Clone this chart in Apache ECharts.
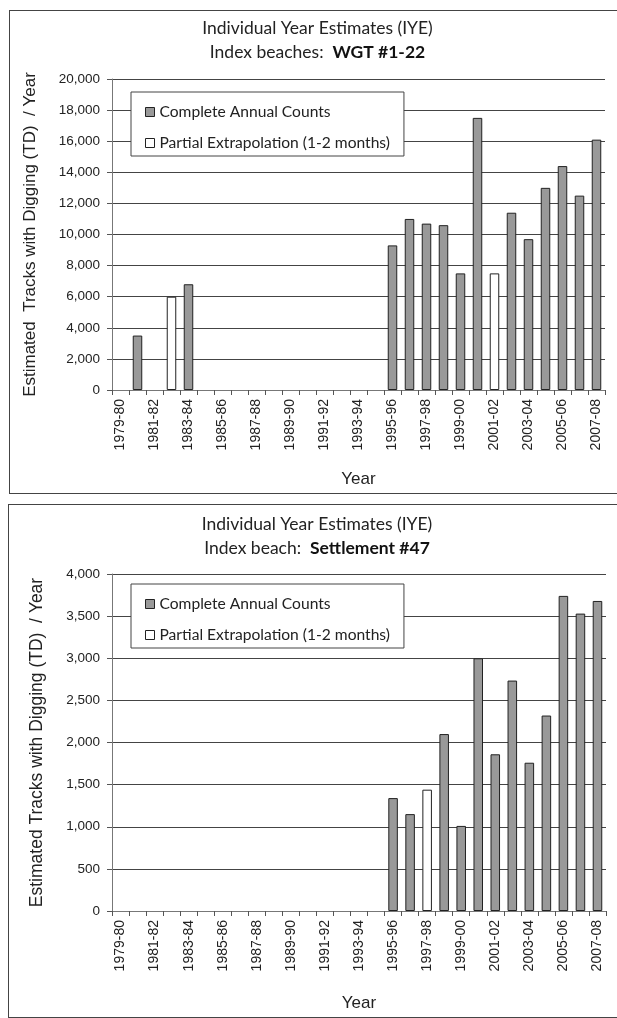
<!DOCTYPE html>
<html>
<head>
<meta charset="utf-8">
<script src="https://cdn.jsdelivr.net/npm/echarts@6/dist/echarts.min.js"></script>
<style>
  html, body {
    margin: 0;
    padding: 0;
    background: #fff;
    overflow: hidden;
    width: 617px;
    height: 1018px;
  }
  .panel {
    position: absolute;
    border: 1px solid #444;
    box-sizing: border-box;
    background: #fff;
  }
  #chart1 { left: 9px; top: 10px; width: 617px; height: 484px; }
  #chart2 { left: 8px; top: 504px; width: 618px; height: 514px; }
</style>
</head>
<body>
<div id="chart1" class="panel"></div>
<div id="chart2" class="panel"></div>

<script>
// seasons 1979-80 ... 2007-08
const years = [
  '1979-80', '1980-81', '1981-82', '1982-83', '1983-84', '1984-85', '1985-86',
  '1986-87', '1987-88', '1988-89', '1989-90', '1990-91', '1991-92', '1992-93',
  '1993-94', '1994-95', '1995-96', '1996-97', '1997-98', '1998-99', '1999-00',
  '2000-01', '2001-02', '2002-03', '2003-04', '2004-05', '2005-06', '2006-07',
  '2007-08'
]

// WGT #1-22
const wgtComplete = [
  null, 3500, null, null, 6800, null, null, null, null, null, null, null, null, null,
  null, null, 9300, 11000, 10700, 10600, 7500, 17500, null, 11400, 9700, 13000, 14400, 12500,
  16100
]
const wgtPartial = [
  null, null, null, 6000, null, null, null, null, null, null, null, null, null, null,
  null, null, null, null, null, null, null, null, 7500, null, null, null, null, null,
  null
]

// Settlement #47
const settComplete = [
  null, null, null, null, null, null, null, null, null, null, null, null, null, null,
  null, null, 1340, 1150, null, 2100, 1010, 3000, 1860, 2735, 1760, 2320, 3740, 3530,
  3680
]
const settPartial = [
  null, null, null, null, null, null, null, null, null, null, null, null, null, null,
  null, null, null, null, 1440, null, null, null, null, null, null, null, null, null,
  null
]

const wgtTicks = { max: 20000, interval: 2000 }
const settTicks = { max: 4000, interval: 500 }

const SERIES_A = 'Complete Annual Counts'
const SERIES_B = 'Partial Extrapolation (1-2 months)'

const titleFont = 'Lato, "Noto Sans", sans-serif'
const axisFont = '"Liberation Sans", Arial, sans-serif'

const makeOption = (cfg) => ({
  animation: false,
  title: {
    text: 'Individual Year Estimates (IYE)\n' + cfg.sub + '  {b|' + cfg.subBold + '}',
    left: 'center',
    top: cfg.titleTop,
    textStyle: {
      fontFamily: titleFont,
      fontSize: 17.5,
      fontWeight: 'normal',
      color: '#222',
      lineHeight: 24,
      rich: {
        b: { fontFamily: titleFont, fontSize: 17.5, fontWeight: 'bold', color: '#111' }
      }
    }
  },
  legend: {
    orient: 'vertical',
    left: cfg.legend.left,
    top: cfg.legend.top,
    padding: [11, 14, 4, 14],
    itemGap: 13,
    itemWidth: 9,
    itemHeight: 9,
    icon: 'rect',
    backgroundColor: '#fff',
    borderColor: '#444',
    borderWidth: 1,
    borderRadius: 0,
    itemStyle: { borderColor: '#222', borderWidth: 1 },
    textStyle: { fontFamily: titleFont, fontSize: 15.6, color: '#222', lineHeight: 18 },
    data: [SERIES_A, SERIES_B]
  },
  grid: cfg.grid,
  xAxis: {
    type: 'category',
    data: years,
    name: 'Year',
    nameLocation: 'middle',
    nameGap: cfg.xNameGap,
    nameTextStyle: { fontFamily: axisFont, fontSize: 17, color: '#222' },
    axisLine: { lineStyle: { color: '#777', width: 1 } },
    axisTick: { show: true, interval: 0, length: 5, lineStyle: { color: '#555' } },
    axisLabel: {
      interval: 1,
      rotate: 90,
      margin: 9,
      fontFamily: axisFont,
      fontSize: 14,
      color: '#222'
    }
  },
  yAxis: {
    type: 'value',
    min: 0,
    max: cfg.ticks.max,
    interval: cfg.ticks.interval,
    name: cfg.yName,
    nameLocation: 'middle',
    nameRotate: 90,
    nameGap: cfg.yNameGap,
    nameTextStyle: { fontFamily: axisFont, fontSize: cfg.yNameSize, color: '#222' },
    axisLine: { show: true, lineStyle: { color: '#777', width: 1 } },
    axisTick: { show: true, length: 5, lineStyle: { color: '#555' } },
    splitLine: { lineStyle: { color: '#444', width: 1 } },
    axisLabel: {
      margin: 12,
      fontFamily: axisFont,
      fontSize: 13.5,
      color: '#222',
      formatter: (v) => v.toLocaleString('en-US')
    }
  },
  series: [
    {
      name: SERIES_A,
      type: 'bar',
      barWidth: '56%',
      barGap: '-100%',
      data: cfg.complete,
      itemStyle: { color: '#999', borderColor: '#222', borderWidth: 1 }
    },
    {
      name: SERIES_B,
      type: 'bar',
      barWidth: '56%',
      barGap: '-100%',
      data: cfg.partial,
      itemStyle: { color: '#fff', borderColor: '#222', borderWidth: 1 }
    }
  ]
})

const chart1 = echarts.init(document.getElementById('chart1'))
chart1.setOption(makeOption({
  sub: 'Index beaches:',
  subBold: 'WGT #1-22',
  titleTop: 0,
  legend: { left: 121, top: 81 },
  grid: { left: 102, top: 68, width: 493, height: 319 },
  xNameGap: 81,
  yName: 'Estimated  Tracks with Digging (TD)  / Year',
  yNameSize: 17,
  yNameGap: 73,
  ticks: wgtTicks,
  complete: wgtComplete,
  partial: wgtPartial
}))

const chart2 = echarts.init(document.getElementById('chart2'))
chart2.setOption(makeOption({
  sub: 'Index beach:',
  subBold: 'Settlement #47',
  titleTop: 2,
  legend: { left: 122, top: 79 },
  grid: { left: 103, top: 69, width: 494, height: 347 },
  xNameGap: 84,
  yName: 'Estimated Tracks with Digging (TD)  / Year',
  yNameSize: 17.5,
  yNameGap: 66,
  ticks: settTicks,
  complete: settComplete,
  partial: settPartial
}))
</script>
</body>
</html>
